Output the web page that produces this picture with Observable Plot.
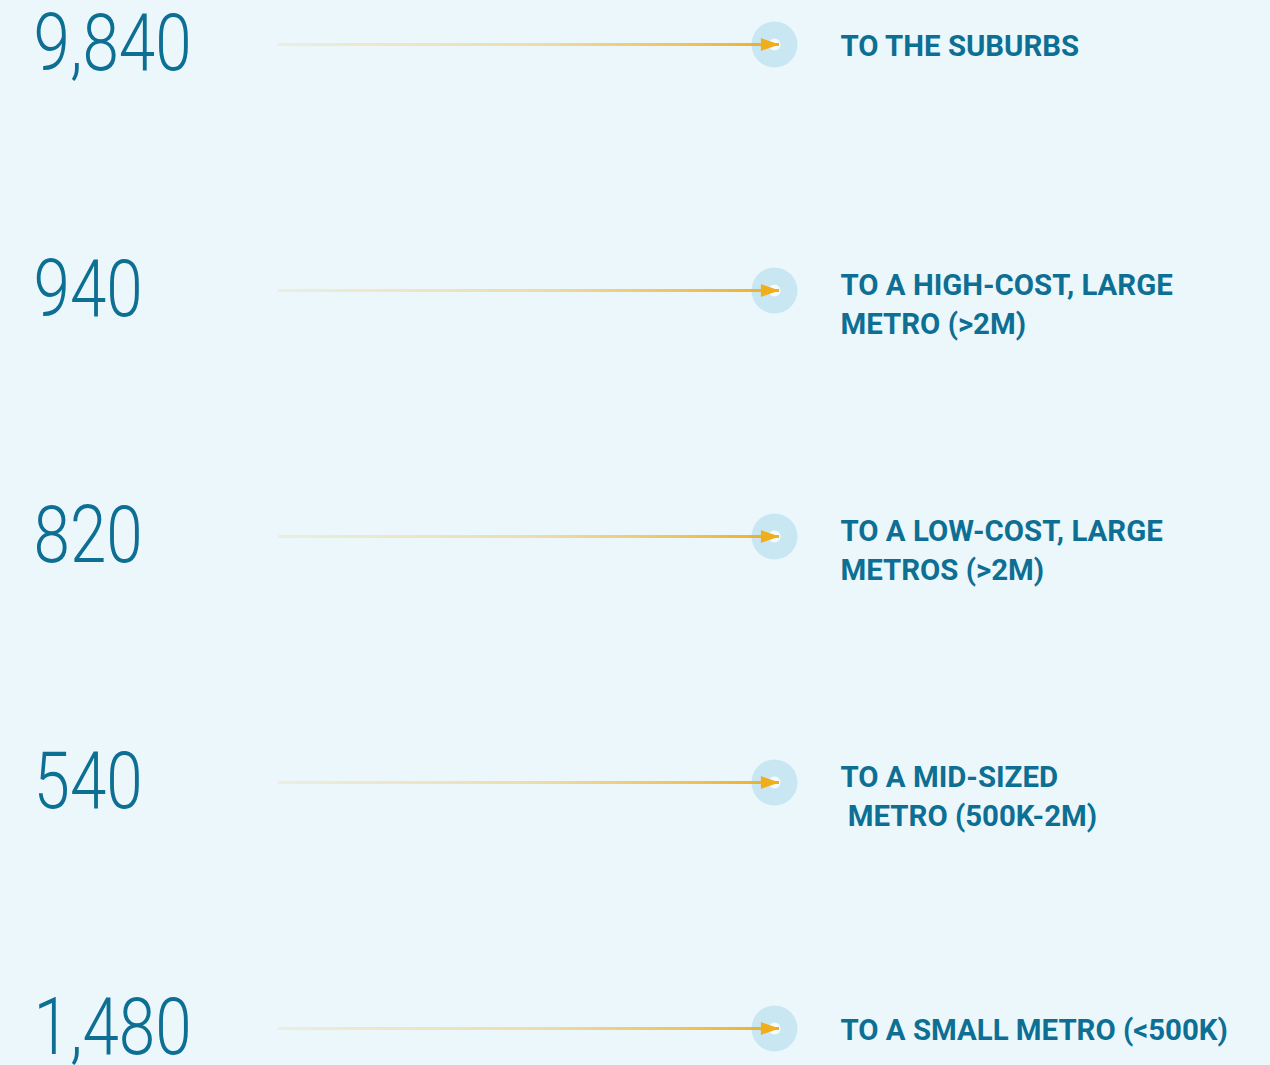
<!DOCTYPE html>
<html>
<head>
<meta charset="utf-8">
<script src="https://cdn.jsdelivr.net/npm/d3@7"></script>
<script src="https://cdn.jsdelivr.net/npm/@observablehq/plot@0.6"></script>
<style>
  html, body { margin: 0; padding: 0; background: #ecf7fc; }
  #chart svg { display: block; background: #ecf7fc; }
</style>
</head>
<body>
<div id="chart"></div>
<script>
// ---- data ----
const rowKeys = ["suburbs", "highcost", "lowcost", "midsized", "small"];
const movers = [9840, 940, 820, 540, 1480];
const destinations = [
  "TO THE SUBURBS",
  "TO A HIGH-COST, LARGE\nMETRO (>2M)",
  "TO A LOW-COST, LARGE\nMETROS (>2M)",
  "TO A MID-SIZED\n\u00a0METRO (500K-2M)",
  "TO A SMALL METRO (<500K)"
];

const rows = rowKeys.map((k, i) => ({
  key: k,
  value: movers[i],
  label: destinations[i],
  lines: destinations[i].split("\n").length
}));

// ---- layout / style ----
const W = 1270, H = 1065;
const mL = 278, mR = 491, mT = 44, mB = 37;
const textColor = "#0d6f93";
const orange = "#f0ae1c";
const circleFill = "#c8e7f3";
const fmt = d3.format(",");

// custom right-pointing arrowhead symbol, tip at the anchor point
const arrowHead = {
  draw(ctx, size) {
    const k = Math.sqrt(size / Math.PI) / 10;
    const L = 18.6 * k, h = 6.4 * k;
    ctx.moveTo(0, 0);
    ctx.lineTo(-L, -h);
    ctx.lineTo(-L, h);
    ctx.closePath();
  }
};

const plot = Plot.plot({
  width: W,
  height: H,
  marginLeft: mL,
  marginRight: mR,
  marginTop: mT,
  marginBottom: mB,
  style: { background: "#ecf7fc", overflow: "visible" },
  x: { axis: null },
  y: { type: "point", domain: rowKeys, padding: 0, axis: null },
  marks: [
    Plot.dot(rows, { y: "key", frameAnchor: "right", dx: -5, r: 23, fill: circleFill, stroke: "none" }),
    Plot.dot(rows, { y: "key", frameAnchor: "right", dx: -5, r: 6, fill: "#f4fbfe", stroke: "none" }),
    Plot.ruleY(rows, { y: "key", stroke: "url(#flowGrad)", strokeWidth: 3 }),
    Plot.dot(rows, { y: "key", frameAnchor: "right", r: 10, symbol: arrowHead, fill: orange, stroke: "none" }),
    Plot.text(rows, {
      y: "key", text: d => fmt(d.value), frameAnchor: "left", dx: -245, dy: 0,
      textAnchor: "start", lineAnchor: "middle",
      fontSize: 80, fontWeight: 300, fontFamily: "Roboto", fill: textColor
    }),
    Plot.text(rows.filter(d => d.lines === 1), {
      y: "key", text: "label", frameAnchor: "right", dx: 61, dy: -16,
      textAnchor: "start", lineAnchor: "top", lineHeight: 1.3,
      fontSize: 30, fontWeight: 700, fontFamily: "Roboto", fill: textColor
    }),
    Plot.text(rows.filter(d => d.lines > 1), {
      y: "key", text: "label", frameAnchor: "right", dx: 61, dy: -23,
      textAnchor: "start", lineAnchor: "top", lineHeight: 1.3,
      fontSize: 30, fontWeight: 700, fontFamily: "Roboto", fill: textColor
    })
  ]
});

// gradient for the flow lines
const svg = d3.select(plot);
const defs = svg.insert("defs", ":first-child");
const grad = defs.append("linearGradient")
  .attr("id", "flowGrad")
  .attr("gradientUnits", "userSpaceOnUse")
  .attr("x1", mL).attr("x2", W - mR).attr("y1", 0).attr("y2", 0);
grad.append("stop").attr("offset", "0%").attr("stop-color", orange).attr("stop-opacity", 0.13);
grad.append("stop").attr("offset", "50%").attr("stop-opacity", 0.35).attr("stop-color", orange);
grad.append("stop").attr("offset", "80%").attr("stop-opacity", 0.7).attr("stop-color", orange);
grad.append("stop").attr("offset", "100%").attr("stop-color", orange).attr("stop-opacity", 1);

// condense the text horizontally (condensed typeface look)
const scales = [0.82, 0.98, 0.98];
plot.querySelectorAll('g[aria-label="text"]').forEach((g, gi) => {
  const s = scales[gi] ?? 1;
  g.querySelectorAll(":scope > text").forEach(t => {
    const tr = t.getAttribute("transform") || "";
    const x = parseFloat(t.getAttribute("x")) || 0;
    t.setAttribute("transform", `${tr} translate(${x},0) scale(${s},1) translate(${-x},0)`);
  });
});

document.getElementById("chart").appendChild(plot);
</script>
</body>
</html>
